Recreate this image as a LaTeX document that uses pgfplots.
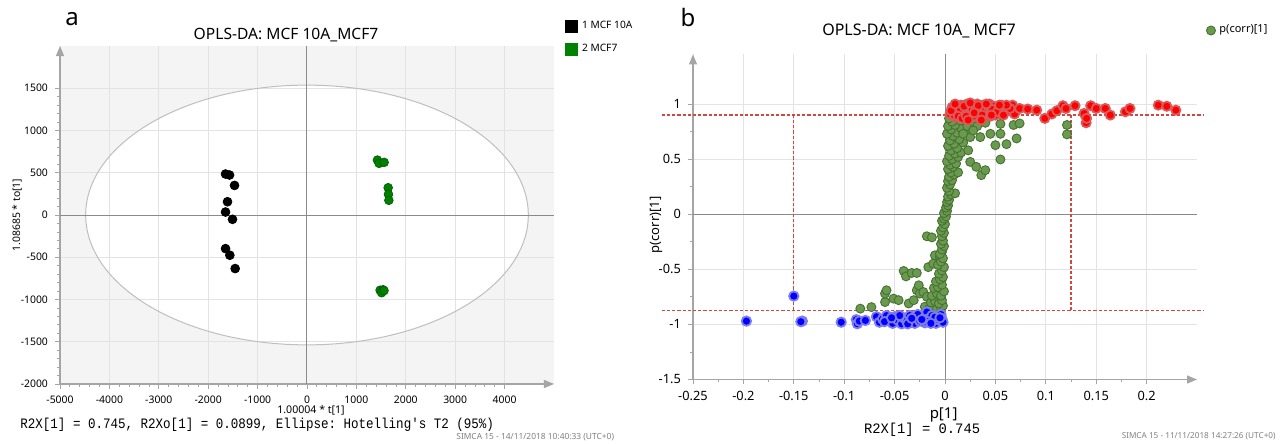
\documentclass[border=0pt]{standalone}
\usepackage{fontspec}
\setmainfont{Noto Sans}
\setmonofont{Liberation Mono}
\usepackage{graphicx}
\usepackage{pgfplots}
\pgfplotsset{compat=1.18}
\usetikzlibrary{arrows.meta}

\definecolor{bgray}{HTML}{F4F4F4}
\definecolor{gridc}{HTML}{E3E3E3}
\definecolor{zeroc}{HTML}{8A8A8A}
\definecolor{axc}{HTML}{A5A5A5}
\definecolor{lgreen}{HTML}{008000}
\definecolor{lgreenedge}{HTML}{005A00}
\definecolor{pgreen}{HTML}{6A9A4E}
\definecolor{pgreenedge}{HTML}{477134}
\definecolor{predge}{HTML}{D85A5A}
\definecolor{pbedge}{HTML}{7C7CF0}
\definecolor{dred}{HTML}{D04840}

\pgfplotsset{simca/.style={
    scale only axis, anchor=south west,
    axis lines=left,
    axis line style={axc, line width=0.6pt, -{Triangle[length=5pt,width=4pt]}},
    grid=major, major grid style={gridc, line width=0.5pt},
    tick align=outside, major tick length=2.5pt, minor tick length=1.5pt,
    every tick/.style={axc, line width=0.4pt},
    scaled ticks=false,
    /pgf/number format/assume math mode=true,
    /pgf/number format/1000 sep={},
    clip=false,
}}
\tikzset{cutoff/.style={draw=dred, dash pattern=on 1.6pt off 1pt, line width=0.6pt}}

\begin{document}
\begin{tikzpicture}
\path[use as bounding box] (0,0) rectangle (640pt,222pt);

% ---- panel a: background (grey plot area, white ellipse)
\begin{axis}[scale only axis, anchor=south west, hide axis,
    at={(30pt,30pt)}, width=247pt, height=169pt,
    xmin=-5000, xmax=5000, ymin=-2000, ymax=2000]
\fill[bgray] (rel axis cs:0,0) rectangle (rel axis cs:1,1);
\fill[white] (axis cs:0,0) ellipse [x radius=4480, y radius=1537];
\end{axis}

% ---- panel a: scores
\begin{axis}[simca,
    at={(30pt,30pt)}, width=247pt, height=169pt,
    xmin=-5000, xmax=5000, ymin=-2000, ymax=2000,
    xtick={-5000,-4000,-3000,-2000,-1000,0,1000,2000,3000,4000},
    ytick={-2000,-1500,-1000,-500,0,500,1000,1500},
    minor x tick num=4, minor y tick num=4,
    tick label style={font=\fontsize{5.2}{6}\selectfont},
    legend style={at={(1.022,1.086)}, anchor=north west, draw=none, fill=none,
        font=\fontsize{5.1}{6}\selectfont, inner sep=0pt, row sep=2pt},
    legend cell align=left,
]
\draw[gray!50, line width=0.5pt] (axis cs:0,0) ellipse [x radius=4480, y radius=1537];
\draw[zeroc, line width=0.5pt] (axis cs:0,-2000) -- (axis cs:0,2000);
\draw[zeroc, line width=0.5pt] (axis cs:-5000,0) -- (axis cs:5000,0);
\addplot[only marks, mark=*, mark size=2.2pt, mark options={fill=black, draw=black},
    legend image code/.code={\fill[black] (0pt,-3pt) rectangle (6pt,3pt);}]
    coordinates {(-1649,485) (-1568,473) (-1467,350) (-1609,157) (-1649,35)
                 (-1508,-51) (-1649,-398) (-1562,-476) (-1454,-634)};
\addlegendentry{1 MCF 10A}
\addplot[only marks, mark=*, mark size=2.2pt, mark options={fill=lgreen, draw=lgreenedge, line width=0.3pt},
    legend image code/.code={\fill[lgreen] (0pt,-3pt) rectangle (6pt,3pt);}]
    coordinates {(1426,650) (1460,611) (1562,623) (1643,323) (1649,245) (1657,174)
                 (1480,-890) (1540,-885) (1510,-920) (1560,-895)};
\addlegendentry{2 MCF7}
\end{axis}

% ---- panel b: S-plot
\begin{axis}[simca,
    at={(346.5pt,32.25pt)}, width=252pt, height=162.5pt,
    xmin=-0.25, xmax=0.25, ymin=-1.5, ymax=1.45,
    xtick={-0.25,-0.2,-0.15,-0.1,-0.05,0,0.05,0.1,0.15,0.2},
    ytick={-1.5,-1,-0.5,0,0.5,1},
    minor x tick num=1, minor y tick num=1,
    /pgf/number format/fixed, /pgf/number format/precision=2,
    tick label style={font=\fontsize{6.4}{7}\selectfont},
    legend style={at={(1.018,1.104)}, anchor=north west, draw=none, fill=none,
        font=\fontsize{5.5}{6}\selectfont, inner sep=0pt},
    legend image code/.code={\draw[#1] plot coordinates {(3pt,0pt)};},
]
\draw[zeroc, line width=0.5pt] (axis cs:0,-1.5) -- (axis cs:0,1.45);
\draw[zeroc, line width=0.5pt] (axis cs:-0.25,0) -- (axis cs:0.25,0);
\draw[cutoff] (axis cs:-0.281,-0.873) -- (axis cs:0.256,-0.873);
\draw[cutoff] (axis cs:-0.281,0.9) -- (axis cs:0.256,0.9);
\draw[cutoff] (axis cs:-0.15,-0.873) -- (axis cs:-0.15,0.9);
\draw[cutoff] (axis cs:0.125,-0.873) -- (axis cs:0.125,0.9);
\addplot[only marks, mark=*, mark size=2.25pt, mark options={fill=pgreen, draw=pgreenedge, line width=0.45pt}]
    coordinates {
    (-0.084,-0.857) (-0.073,-0.843) (-0.0595,-0.797) (-0.0595,-0.72) (-0.058,-0.69)
    (-0.051,-0.766) (-0.046,-0.78) (-0.041,-0.515) (-0.0387,-0.564) (-0.033,-0.533)
    (-0.028,-0.533) (-0.036,-0.81) (-0.031,-0.78) (-0.028,-0.69) (-0.025,-0.72)
    (-0.026,-0.645) (-0.0215,-0.706) (-0.018,-0.75) (-0.0166,-0.48) (-0.0116,-0.448)
    (-0.010,-0.373) (-0.005,-0.388) (-0.003,-0.34)
    (-0.020,-0.84) (-0.016,-0.86) (-0.012,-0.85) (-0.008,-0.86) (-0.004,-0.85)
    (-0.002,-0.83) (-0.014,-0.80) (-0.010,-0.79) (-0.006,-0.81) (-0.003,-0.78)
    (-0.013,-0.74) (-0.008,-0.72) (-0.004,-0.74) (-0.001,-0.70) (-0.011,-0.67)
    (-0.007,-0.66) (-0.003,-0.64) (-0.009,-0.61) (-0.005,-0.59) (-0.002,-0.57)
    (-0.006,-0.54) (-0.003,-0.51) (-0.001,-0.48) (-0.007,-0.46) (-0.004,-0.43)
    (-0.002,-0.40) (-0.005,-0.36) (-0.003,-0.32) (-0.001,-0.29) (-0.004,-0.27)
    (-0.002,-0.24) (-0.018,-0.20) (-0.013,-0.21) (-0.003,-0.20) (-0.001,-0.17)
    (-0.004,-0.15) (-0.002,-0.12) (0.000,-0.09) (-0.003,-0.06) (-0.001,-0.04)
    (0.001,-0.02) (-0.001,0.01) (0.002,0.03) (0.001,0.06) (0.003,0.08)
    (0.002,0.11) (0.004,0.13) (0.003,0.16) (0.006,0.18) (0.010,0.19)
    (0.004,0.21) (0.002,0.24) (0.005,0.27) (0.003,0.30) (0.007,0.31)
    (0.004,0.34) (0.009,0.36) (0.006,0.38) (0.013,0.38) (0.003,0.41)
    (0.008,0.43) (0.005,0.45) (0.011,0.46) (0.002,0.48) (0.007,0.50)
    (0.013,0.52) (0.004,0.53) (0.010,0.55) (0.016,0.56) (0.006,0.58)
    (0.012,0.60) (0.003,0.62) (0.009,0.64) (0.018,0.65) (0.005,0.67)
    (0.014,0.68) (0.008,0.71) (0.002,0.73) (0.012,0.74) (0.020,0.75)
    (0.006,0.77) (0.016,0.78) (0.003,0.80) (0.010,0.81) (0.022,0.80)
    (0.007,0.84) (0.015,0.85) (0.028,0.84) (0.004,0.87) (0.012,0.88) (0.020,0.88)
    (0.023,0.58) (0.025,0.475) (0.031,0.43) (0.036,0.355) (0.040,0.40)
    (0.055,0.497) (0.050,0.627) (0.061,0.636) (0.071,0.688) (0.068,0.81)
    (0.074,0.824) (0.045,0.73) (0.055,0.73) (0.055,0.82) (0.035,0.70)
    (0.025,0.70) (0.018,0.73) (0.121,0.81) (0.121,0.725) (0.032,0.80)
    (0.040,0.83) (0.028,0.76)
    };
\addlegendentry{p(corr)[1]}
\addplot[forget plot, only marks, mark=*, mark size=2.3pt, mark options={fill=red, draw=predge, line width=0.9pt}]
    coordinates {
    (0.005,0.91) (0.008,0.95) (0.010,0.88) (0.012,0.98) (0.014,0.93)
    (0.016,0.99) (0.018,0.90) (0.020,0.96) (0.022,1.00) (0.024,0.93)
    (0.026,0.98) (0.028,0.89) (0.030,0.95) (0.032,1.00) (0.034,0.92)
    (0.036,0.97) (0.038,0.99) (0.040,0.91) (0.042,0.96) (0.044,1.00)
    (0.046,0.93) (0.048,0.98) (0.050,0.90) (0.053,0.96) (0.056,0.99)
    (0.058,0.92) (0.061,0.97) (0.064,0.94) (0.067,0.99) (0.069,0.91)
    (0.007,0.97) (0.011,0.92) (0.015,0.96) (0.019,0.98) (0.023,0.91)
    (0.027,0.95) (0.031,0.97) (0.035,0.94) (0.039,0.96) (0.043,0.98)
    (0.047,0.95) (0.052,0.93) (0.009,0.90) (0.013,0.89) (0.017,0.87)
    (0.021,0.89) (0.006,0.94) (0.025,1.01) (0.033,0.985) (0.041,1.00)
    (0.029,0.92) (0.037,0.90) (0.045,0.89) (0.010,1.00)
    (0.023,0.855) (0.036,0.855) (0.058,0.90) (0.0645,0.96) (0.061,0.99)
    (0.054,0.99) (0.046,0.90)
    (0.074,0.96) (0.082,0.955) (0.091,0.945) (0.099,0.87) (0.106,0.91)
    (0.111,0.94) (0.117,0.985) (0.120,0.96) (0.129,0.985) (0.138,0.915)
    (0.140,0.83) (0.1405,0.87) (0.1445,0.985) (0.150,0.96) (0.159,0.96)
    (0.164,0.90) (0.179,0.93) (0.1835,0.96) (0.2116,0.99) (0.220,0.98)
    (0.229,0.945)
    };
\addplot[forget plot, only marks, mark=*, mark size=2.35pt, mark options={fill=blue, draw=pbedge, line width=0.9pt}]
    coordinates {
    (-0.197,-0.97) (-0.15,-0.743) (-0.1415,-0.97) (-0.143,-0.975) (-0.103,-0.98)
    (-0.088,-0.957) (-0.087,-0.994) (-0.085,-0.97) (-0.079,-0.964)
    (-0.068,-0.93) (-0.065,-0.98) (-0.062,-0.95) (-0.058,-0.92) (-0.055,-0.965)
    (-0.052,-0.99) (-0.050,-0.93) (-0.047,-0.96) (-0.043,-0.995) (-0.041,-0.94)
    (-0.038,-0.97) (-0.035,-0.92) (-0.032,-0.96) (-0.030,-0.99) (-0.028,-0.94)
    (-0.025,-0.97) (-0.022,-0.93) (-0.020,-0.985) (-0.018,-0.888) (-0.017,-0.95)
    (-0.015,-0.97) (-0.013,-0.92) (-0.011,-0.96) (-0.009,-0.99) (-0.007,-0.933)
    (-0.006,-0.96) (-0.004,-0.91) (-0.003,-0.95) (-0.002,-0.98) (-0.060,-0.975)
    (-0.045,-0.92) (-0.037,-0.995) (-0.027,-0.91) (-0.019,-0.97) (-0.010,-0.935)
    (-0.053,-0.94) (-0.033,-0.945) (-0.023,-0.955) (-0.014,-0.99) (-0.005,-0.94)
    };
\end{axis}

% ---- titles, labels and footers
\node[font=\fontsize{12}{14}\selectfont] at (36pt,212.5pt) {a};
\node[font=\fontsize{7.8}{9}\selectfont] at (143pt,204.5pt) {OPLS-DA: MCF 10A\_MCF7};
\node[font=\fontsize{5.2}{6}\selectfont, rotate=90] at (8.5pt,114.5pt) {1.08685 * to[1]};
\node[font=\fontsize{5.3}{6}\selectfont] at (155.5pt,16.8pt) {1.00004 * t[1]};
\node[anchor=west, inner sep=0pt] at (10pt,9.8pt)
    {\scalebox{0.87}[1]{\fontsize{7.2}{8}\selectfont\ttfamily R2X[1] = 0.745, R2Xo[1] = 0.0899, Ellipse: Hotelling's T2 (95\%)}};
\node[anchor=west, inner sep=0pt, text=gray, font=\fontsize{4.2}{5}\selectfont] at (228pt,3.6pt)
    {SIMCA 15 - 14/11/2018 10:40:33 (UTC+0)};

\node[font=\fontsize{12}{14}\selectfont] at (344pt,213pt) {b};
\node[font=\fontsize{8}{9}\selectfont] at (459.5pt,206.5pt) {OPLS-DA: MCF 10A\_ MCF7};
\node[font=\fontsize{6.5}{7}\selectfont, rotate=90] at (328pt,109.5pt) {p(corr)[1]};
\node[font=\fontsize{7.5}{8}\selectfont] at (471.8pt,14.6pt) {p[1]};
\node[anchor=west, inner sep=0pt] at (431.8pt,7.3pt)
    {\scalebox{0.96}[1]{\fontsize{7.2}{8}\selectfont\ttfamily R2X[1] = 0.745}};
\node[anchor=east, inner sep=0pt, text=gray, font=\fontsize{4.1}{5}\selectfont] at (638pt,4pt)
    {SIMCA 15 - 11/11/2018 14:27:26 (UTC+0)};
\end{tikzpicture}
\end{document}
